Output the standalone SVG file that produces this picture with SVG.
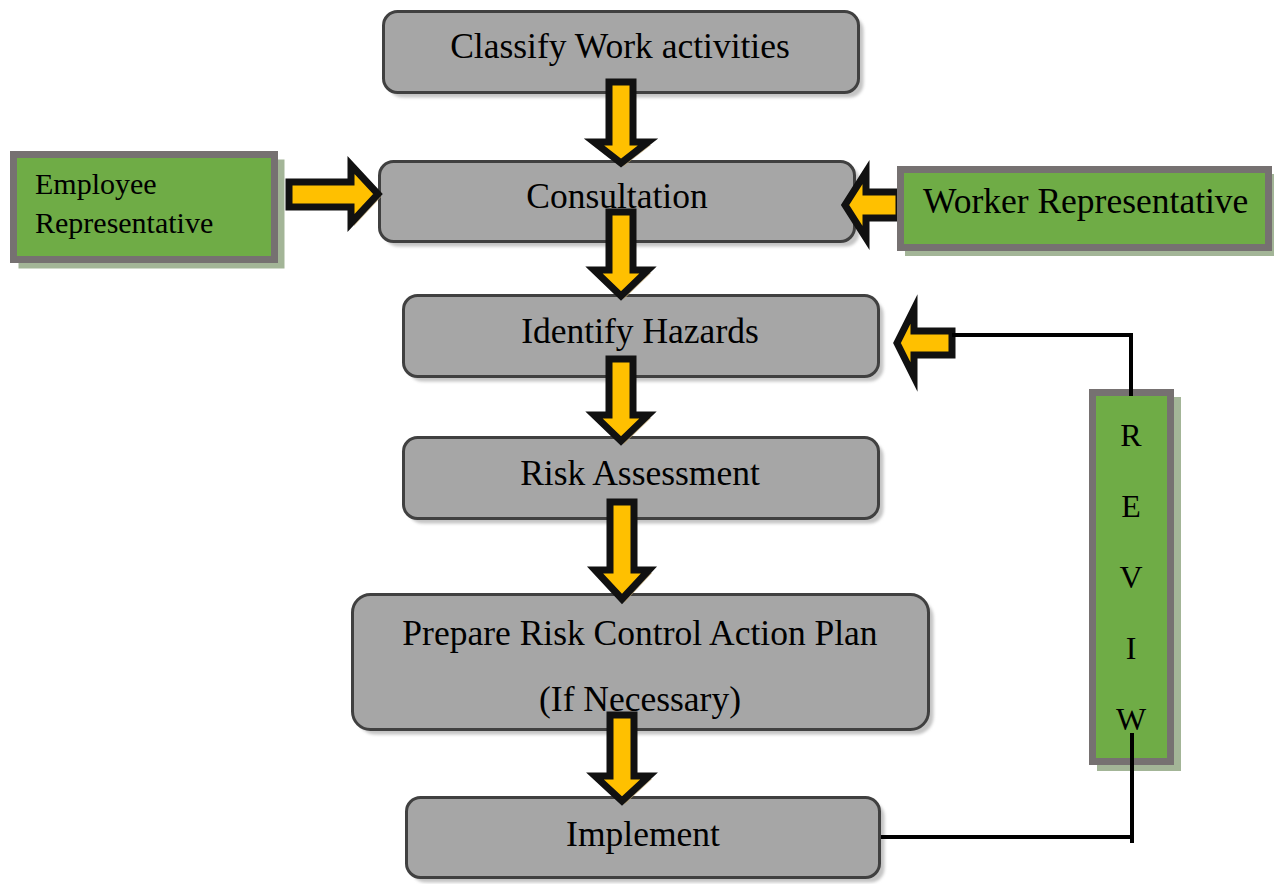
<svg xmlns="http://www.w3.org/2000/svg" width="1274" height="884" viewBox="0 0 1274 884">
<defs>
<style>
.box{fill:#a6a6a6;stroke:#404040;stroke-width:3}
.bshadow{fill:#c4c4c4}
.green{fill:#6fac46;stroke:#767171;stroke-width:7}
.gshadow{fill:#a3b597}
.t{font-family:"Liberation Serif","Times New Roman",serif;font-size:35.5px;fill:#000}
.tc{text-anchor:middle}
.arr{fill:#ffc000;stroke:#111;stroke-width:7;stroke-linejoin:miter;stroke-miterlimit:10}
.ash{fill:#b9a06a;opacity:0.8}
.ln{fill:none;stroke:#000;stroke-width:4}
</style>
<filter id="blur" x="-10%" y="-10%" width="120%" height="120%"><feGaussianBlur stdDeviation="1.5"/></filter>
</defs>

<g id="node-classify">
<rect class="bshadow" filter="url(#blur)" x="388.5" y="16.5" width="475" height="81" rx="14"/>
<rect class="box" x="383.5" y="11.5" width="475" height="81" rx="14"/>
<text class="t tc" x="620" y="58">Classify Work activities</text>
</g>
<g id="node-consultation">
<rect class="bshadow" filter="url(#blur)" x="384.5" y="166.5" width="475" height="80" rx="14"/>
<rect class="box" x="379.5" y="161.5" width="475" height="80" rx="14"/>
<text class="t tc" x="617" y="208">Consultation</text>
</g>
<g id="node-identify">
<rect class="bshadow" filter="url(#blur)" x="408.5" y="300.5" width="475" height="81" rx="14"/>
<rect class="box" x="403.5" y="295.5" width="475" height="81" rx="14"/>
<text class="t tc" x="640" y="343">Identify Hazards</text>
</g>
<g id="node-risk">
<rect class="bshadow" filter="url(#blur)" x="408.5" y="442.5" width="475" height="81" rx="14"/>
<rect class="box" x="403.5" y="437.5" width="475" height="81" rx="14"/>
<text class="t tc" x="640" y="485">Risk Assessment</text>
</g>
<g id="node-prepare">
<rect class="bshadow" filter="url(#blur)" x="357.5" y="599.5" width="576" height="135" rx="18"/>
<rect class="box" x="352.5" y="594.5" width="576" height="135" rx="18"/>
<text class="t tc" x="640" y="645">Prepare Risk Control Action Plan</text>
<text class="t tc" x="640" y="711">(If Necessary)</text>
</g>
<g id="node-implement">
<rect class="bshadow" filter="url(#blur)" x="411.5" y="802.5" width="473" height="80" rx="14"/>
<rect class="box" x="406.5" y="797.5" width="473" height="80" rx="14"/>
<text class="t tc" x="643" y="846">Implement</text>
</g>

<g id="connectors">
<g transform="translate(3,3)">
<path class="ash" d="M609,82 H633 V142 H648 L621,163 L594,142 H609 Z"/>
<path class="ash" d="M609,212 H633 V270 H648 L621,296 L594,270 H609 Z"/>
<path class="ash" d="M609,359 H633 V415 H648 L621,441 L594,415 H609 Z"/>
<path class="ash" d="M610,502 H634 V570 H649 L622,599 L595,570 H610 Z"/>
<path class="ash" d="M610,715 H634 V776 H649 L622,801 L595,776 H610 Z"/>
<path class="ash" d="M289,182 H351 V165 L378,194 L351,223 V207 H289 Z"/>
<path class="ash" d="M899,192 H866 V172 L845,205 L866,238 V218 H899 Z"/>
<path class="ash" d="M952,331 H914 V309 L897,343 L914,377 V355 H952 Z"/>
</g>
<path class="arr" d="M609,82 H633 V142 H648 L621,163 L594,142 H609 Z"/>
<path class="arr" d="M609,212 H633 V270 H648 L621,296 L594,270 H609 Z"/>
<path class="arr" d="M609,359 H633 V415 H648 L621,441 L594,415 H609 Z"/>
<path class="arr" d="M610,502 H634 V570 H649 L622,599 L595,570 H610 Z"/>
<path class="arr" d="M610,715 H634 V776 H649 L622,801 L595,776 H610 Z"/>
<path class="arr" d="M289,182 H351 V165 L378,194 L351,223 V207 H289 Z"/>
<path class="arr" d="M899,192 H866 V172 L845,205 L866,238 V218 H899 Z"/>
<path class="arr" d="M952,331 H914 V309 L897,343 L914,377 V355 H952 Z"/>
<polyline class="ln" points="952,335 1131,335 1131,396"/>
<polyline class="ln" points="881,837 1132,837"/>
<polyline class="ln" points="1132,733 1132,843"/>
</g>

<g id="node-employee">
<rect class="gshadow" x="18.5" y="159.5" width="266" height="109"/>
<rect class="green" x="13.5" y="154.5" width="261" height="105"/>
<text class="t" style="font-size:30px" x="35" y="194">Employee</text>
<text class="t" style="font-size:30px" x="35" y="233">Representative</text>
</g>
<g id="node-worker">
<rect class="gshadow" x="905" y="174" width="369" height="82"/>
<rect class="green" x="900.5" y="169.5" width="368" height="78"/>
<text class="t" x="923" y="213">Worker Representative</text>
</g>
<g id="node-review">
<rect class="gshadow" x="1097" y="397" width="84" height="374"/>
<rect class="green" x="1092.5" y="392.5" width="78" height="369"/>
<text class="t tc" style="font-size:32px" x="1131" y="446">R</text>
<text class="t tc" style="font-size:32px" x="1131" y="517">E</text>
<text class="t tc" style="font-size:32px" x="1131" y="588">V</text>
<text class="t tc" style="font-size:32px" x="1131" y="659">I</text>
<text class="t tc" style="font-size:32px" x="1131" y="730">W</text>
</g>
<polyline class="ln" points="1131,335 1131,396"/>
<polyline class="ln" points="1132,733 1132,843"/>
</svg>
